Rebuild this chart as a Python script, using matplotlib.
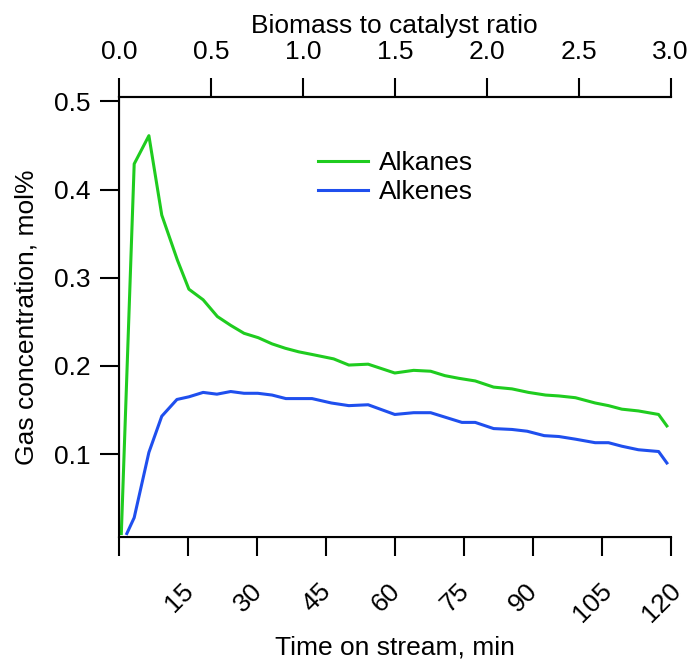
import numpy as np
import matplotlib.pyplot as plt
import matplotlib.transforms as mtransforms

plt.rcParams['font.family'] = ['Liberation Sans', 'DejaVu Sans']

# time on stream (min) and gas concentration (mol%)
t_alkanes = [0.5, 3.3, 6.5, 9.3, 12.7, 15.2, 18.3, 21.4, 24.3, 27.2, 30.3, 33.3,
             36.2, 39.1, 42.0, 46.7, 50.0, 54.2, 60.0, 64.1, 67.8, 70.9, 73.9,
             77.5, 81.5, 85.5, 89.1, 92.8, 95.7, 99.3, 103.6, 106.5, 109.4,
             113.0, 117.4, 119.2]
alkanes = [0.010, 0.429, 0.461, 0.371, 0.320, 0.287, 0.275, 0.256, 0.246, 0.237,
           0.232, 0.225, 0.220, 0.216, 0.213, 0.208, 0.201, 0.202, 0.192, 0.195,
           0.194, 0.189, 0.186, 0.183, 0.176, 0.174, 0.170, 0.167, 0.166, 0.164,
           0.158, 0.155, 0.151, 0.149, 0.145, 0.132]

t_alkenes = [1.7, 3.3, 6.5, 9.3, 12.6, 15.2, 18.3, 21.3, 24.3, 27.2, 30.2, 33.3,
             36.3, 39.1, 42.0, 46.2, 50.0, 54.2, 60.0, 64.1, 67.8, 70.9, 74.6,
             77.5, 81.5, 85.5, 88.8, 92.5, 95.7, 99.3, 103.6, 106.5, 109.4,
             113.0, 117.4, 119.2]
alkenes = [0.010, 0.028, 0.102, 0.143, 0.162, 0.165, 0.170, 0.168, 0.171, 0.169,
           0.169, 0.167, 0.163, 0.163, 0.163, 0.158, 0.155, 0.156, 0.145, 0.147,
           0.147, 0.142, 0.136, 0.136, 0.129, 0.128, 0.126, 0.121, 0.120, 0.117,
           0.113, 0.113, 0.109, 0.105, 0.103, 0.090]

time_ticks = [0, 15, 30, 45, 60, 75, 90, 105, 120]
time_labels = ['', '15', '30', '45', '60', '75', '90', '105', '120']
ratio_ticks = [0.0, 0.5, 1.0, 1.5, 2.0, 2.5, 3.0]
conc_ticks = [0.1, 0.2, 0.3, 0.4, 0.5]

FS = 19
TICK_LEN = 14

fig = plt.figure(figsize=(6.92, 6.59), dpi=100)
ax = fig.add_axes([0.172, 0.185, 0.797, 0.668])

ax.plot(t_alkanes, alkanes, color='#1fcc1f', lw=2.2, label='Alkanes')
ax.plot(t_alkenes, alkenes, color='#1f4fee', lw=2.2, label='Alkenes')

ax.set_xlim(0, 120)
ax.set_ylim(0.006, 0.505)
ax.set_xticks(time_ticks)
ax.set_xticklabels(time_labels, rotation=45, ha='center', va='top')
ax.set_yticks(conc_ticks)
ax.set_yticklabels([f'{v:.1f}' for v in conc_ticks])
ax.tick_params(direction='out', length=TICK_LEN, width=1.5, labelsize=FS, pad=6.5)
ax.tick_params(axis='x', pad=16)
# rotated time labels sit a little left of their ticks
shift = mtransforms.ScaledTranslation(-9 / 100, 0, fig.dpi_scale_trans)
for lbl in ax.get_xticklabels():
    lbl.set_transform(lbl.get_transform() + shift)

ax.spines['right'].set_visible(False)
for s in ['left', 'bottom', 'top']:
    ax.spines[s].set_linewidth(1.5)

ax.set_xlabel('Time on stream, min', fontsize=FS, labelpad=6)
ax.set_ylabel('Gas concentration, mol%', fontsize=FS, labelpad=11)

top = ax.twiny()
top.set_xlim(0, 3.0)
top.set_xticks(ratio_ticks)
top.set_xticklabels([f'{v:.1f}' for v in ratio_ticks])
top.tick_params(direction='out', length=TICK_LEN, width=1.5, labelsize=FS, pad=10)
top.spines['right'].set_visible(False)
top.spines['top'].set_linewidth(1.5)
top.set_xlabel('Biomass to catalyst ratio', fontsize=FS, labelpad=5)

ax.legend(loc='upper left', bbox_to_anchor=(0.36, 0.877), frameon=False,
          fontsize=FS, handlelength=1.9, handletextpad=0.42, labelspacing=0.2,
          borderpad=0, borderaxespad=0)

fig.savefig('out.png', dpi=100)
